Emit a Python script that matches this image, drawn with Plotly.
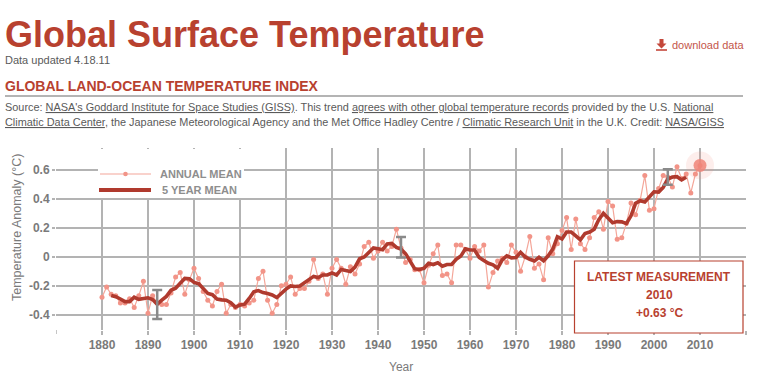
import plotly.graph_objects as go

# ---------------- data ----------------
years = list(range(1880, 2011))
annual = [
    -0.28, -0.21, -0.26, -0.27, -0.32, -0.32, -0.29, -0.35, -0.27, -0.17,   # 1880s
    -0.39, -0.27, -0.32, -0.33, -0.33, -0.25, -0.14, -0.11, -0.26, -0.16,   # 1890s
    -0.08, -0.15, -0.24, -0.30, -0.34, -0.24, -0.19, -0.39, -0.33, -0.35,   # 1900s
    -0.33, -0.34, -0.32, -0.30, -0.15, -0.10, -0.30, -0.39, -0.33, -0.20,   # 1910s
    -0.19, -0.14, -0.26, -0.22, -0.22, -0.17, -0.02, -0.15, -0.12, -0.26,   # 1920s
    -0.08, -0.02, -0.08, -0.19, -0.07, -0.12, -0.05, 0.07, 0.10, -0.01,     # 1930s
    0.04, 0.10, 0.04, 0.07, 0.19, 0.06, -0.04, -0.02, -0.09, -0.09,         # 1940s
    -0.18, -0.06, 0.02, 0.08, -0.13, -0.12, -0.18, 0.08, 0.08, 0.05,        # 1950s
    -0.01, 0.07, 0.04, 0.08, -0.21, -0.11, -0.03, -0.01, -0.04, 0.08,       # 1960s
    0.03, -0.10, 0.00, 0.14, -0.08, -0.05, -0.16, 0.13, 0.02, 0.09,         # 1970s
    0.18, 0.27, 0.05, 0.26, 0.09, 0.05, 0.13, 0.27, 0.31, 0.19,             # 1980s
    0.38, 0.35, 0.12, 0.13, 0.23, 0.37, 0.29, 0.39, 0.56, 0.32,             # 1990s
    0.33, 0.47, 0.56, 0.55, 0.48, 0.62, 0.54, 0.57, 0.44, 0.57,             # 2000s
    0.63,                                                                   # 2010
]

years5 = list(range(1882, 2008))
five_year = [
    -0.268, -0.276, -0.292, -0.310, -0.310, -0.280, -0.294, -0.290,          # 1882-1889
    -0.284, -0.296, -0.328, -0.300, -0.274, -0.232, -0.218, -0.184, -0.150, -0.152,  # 1890s
    -0.178, -0.186, -0.222, -0.254, -0.262, -0.292, -0.298, -0.300, -0.318, -0.348,  # 1900s
    -0.334, -0.328, -0.288, -0.242, -0.234, -0.248, -0.254, -0.264, -0.282, -0.250,  # 1910s
    -0.224, -0.202, -0.206, -0.202, -0.178, -0.156, -0.136, -0.144, -0.126, -0.126,  # 1920s
    -0.112, -0.126, -0.088, -0.096, -0.102, -0.072, -0.014, -0.002, 0.030, 0.060,    # 1930s
    0.054, 0.048, 0.088, 0.092, 0.064, 0.052, 0.020, -0.036, -0.084, -0.088,         # 1940s
    -0.080, -0.046, -0.054, -0.042, -0.066, -0.054, -0.054, -0.018, 0.004, 0.054,    # 1950s
    0.046, 0.046, -0.006, -0.026, -0.046, -0.056, -0.080, -0.022, 0.006, -0.008,     # 1960s
    -0.006, 0.030, -0.002, -0.018, -0.030, -0.004, -0.028, 0.006, 0.052, 0.138,      # 1970s
    0.122, 0.170, 0.170, 0.144, 0.116, 0.160, 0.170, 0.190, 0.256, 0.300,            # 1980s
    0.270, 0.234, 0.242, 0.240, 0.228, 0.282, 0.368, 0.386, 0.378, 0.414,            # 1990s
    0.448, 0.446, 0.478, 0.536, 0.550, 0.552, 0.530, 0.548,                          # 2000-2007
]

err_years = [1892, 1945, 2003]
err_center = [-0.33, 0.065, 0.55]
err_half = [0.10, 0.07, 0.053]

x_tickvals = [1880, 1890, 1900, 1910, 1920, 1930, 1940, 1950, 1960, 1970, 1980, 1990, 2000, 2010, 2020]
x_ticktext = ["1880", "1890", "1900", "1910", "1920", "1930", "1940", "1950", "1960", "1970", "1980", "1990", "2000", "2010", ""]
y_tickvals = [0.6, 0.4, 0.2, 0, -0.2, -0.4]
y_ticktext = ["0.6", "0.4", "0.2", "0", "-0.2", "-0.4"]

# ---------------- style ----------------
FONT = "Liberation Sans, Arial, Helvetica, sans-serif"
RED = "#b8412f"
DARK_LINE = "#b03a2e"
ANNUAL_LINE = "#f4a699"
ANNUAL_MARK = "#f29488"
GRID = "#b3b3b3"
GRAY = "#7a7a7a"
TEXT_GRAY = "#5a5a5a"

W, H = 758, 385
L, R, T, B = 56, 746, 148, 330


def px(x):
    return (x - L) / (R - L)


def py(y):
    return (B - y) / (B - T)


fig = go.Figure()

fig.add_trace(go.Scatter(
    x=years, y=annual, mode="lines+markers",
    line=dict(color=ANNUAL_LINE, width=1.2),
    marker=dict(size=5, color=ANNUAL_MARK),
    hoverinfo="skip", showlegend=False,
))
fig.add_trace(go.Scatter(
    x=years5, y=five_year, mode="lines",
    line=dict(color=DARK_LINE, width=3.6),
    hoverinfo="skip", showlegend=False,
))
# latest measurement highlight
fig.add_trace(go.Scatter(
    x=[years[-1]], y=[annual[-1]], mode="markers",
    marker=dict(size=28, color="rgba(242,140,128,0.15)"),
    hoverinfo="skip", showlegend=False,
))
fig.add_trace(go.Scatter(
    x=[years[-1]], y=[annual[-1]], mode="markers",
    marker=dict(size=13, color="rgba(240,132,120,0.85)"),
    hoverinfo="skip", showlegend=False,
))
# uncertainty bars
fig.add_trace(go.Scatter(
    x=err_years, y=err_center, mode="markers",
    marker=dict(size=2, color="rgba(0,0,0,0)"),
    error_y=dict(type="data", array=err_half, color="#8a8a8a", thickness=2.5, width=5),
    hoverinfo="skip", showlegend=False,
))

shapes = []
annotations = []

# header
annotations.append(dict(x=px(3), y=py(34), xref="paper", yref="paper", xanchor="left", yanchor="middle",
                        text="<b>Global Surface Temperature</b>", showarrow=False,
                        font=dict(family=FONT, size=36, color=RED)))
annotations.append(dict(x=px(3), y=py(60), xref="paper", yref="paper", xanchor="left", yanchor="middle",
                        text="Data updated 4.18.11", showarrow=False,
                        font=dict(family=FONT, size=11, color=TEXT_GRAY)))
annotations.append(dict(x=px(3), y=py(86), xref="paper", yref="paper", xanchor="left", yanchor="middle",
                        text="<b>GLOBAL LAND-OCEAN TEMPERATURE INDEX</b>", showarrow=False,
                        font=dict(family=FONT, size=14, color=RED)))
shapes.append(dict(type="line", xref="paper", yref="paper", x0=px(5), x1=px(743), y0=py(96), y1=py(96),
                   line=dict(color="#6a6a6a", width=1.2)))
annotations.append(dict(x=px(3), y=py(107), xref="paper", yref="paper", xanchor="left", yanchor="middle",
                        text="Source: <u>NASA's Goddard Institute for Space Studies (GISS)</u>. This trend "
                             "<u>agrees with other global temperature records</u> provided by the U.S. <u>National</u>",
                        showarrow=False, font=dict(family=FONT, size=10.9, color=TEXT_GRAY)))
annotations.append(dict(x=px(3), y=py(122), xref="paper", yref="paper", xanchor="left", yanchor="middle",
                        text="<u>Climatic Data Center</u>, the Japanese Meteorological Agency and the Met Office "
                             "Hadley Centre / <u>Climatic Research Unit</u> in the U.K. Credit: <u>NASA/GISS</u>",
                        showarrow=False, font=dict(family=FONT, size=10.9, color=TEXT_GRAY)))
# download link
annotations.append(dict(x=px(670), y=py(45), xref="paper", yref="paper", xanchor="left", yanchor="middle",
                        text="download data", showarrow=False,
                        font=dict(family=FONT, size=11, color="#c4564a")))
arrow_path = "M {a},{b} L {c},{b} L {c},{d} L {e},{d} L {f},{g} L {h},{d} L {i},{d} Z".format(
    a=px(659.5), b=py(39), c=px(663.5), d=py(43.5), e=px(666.5), f=px(661.5), g=py(48.5), h=px(656.5), i=px(659.5))
shapes.append(dict(type="path", xref="paper", yref="paper", path=arrow_path,
                   fillcolor="#c4473a", line=dict(width=0)))
shapes.append(dict(type="rect", xref="paper", yref="paper", x0=px(656), x1=px(667), y0=py(49.2), y1=py(50.8),
                   fillcolor="#c4473a", line=dict(width=0)))

# left-edge tick
shapes.append(dict(type="line", xref="x", yref="paper", x0=1870, x1=1870, ysizemode="pixel", yanchor=0,
                   y0=0, y1=-4, line=dict(color=GRID, width=1.5)))

# legend (manual)
shapes.append(dict(type="rect", xref="paper", yref="paper", x0=px(98), x1=px(244), y0=py(198), y1=py(149),
                   fillcolor="white", line=dict(width=0), layer="above"))
shapes.append(dict(type="line", xref="paper", yref="paper", x0=px(100), x1=px(151), y0=py(174), y1=py(174),
                   line=dict(color=ANNUAL_LINE, width=1.2), layer="above"))
shapes.append(dict(type="circle", xref="paper", yref="paper", x0=px(123.2), x1=px(127.8), y0=py(176.3), y1=py(171.7),
                   fillcolor=ANNUAL_MARK, line=dict(width=0), layer="above"))
shapes.append(dict(type="line", xref="paper", yref="paper", x0=px(99), x1=px(151), y0=py(190), y1=py(190),
                   line=dict(color=DARK_LINE, width=4), layer="above"))
annotations.append(dict(x=px(158), y=py(174), xref="paper", yref="paper", xanchor="left", yanchor="middle",
                        text="<b>ANNUAL MEAN</b>", showarrow=False,
                        font=dict(family=FONT, size=11, color="#8e8e8e")))
annotations.append(dict(x=px(160), y=py(190), xref="paper", yref="paper", xanchor="left", yanchor="middle",
                        text="<b>5 YEAR MEAN</b>", showarrow=False,
                        font=dict(family=FONT, size=11, color="#8e8e8e")))

# latest measurement box
shapes.append(dict(type="rect", xref="paper", yref="paper", x0=px(574.5), x1=px(743), y0=py(333), y1=py(261),
                   fillcolor="white", line=dict(color=RED, width=1.2), layer="above"))
box_lines = ["LATEST MEASUREMENT", str(years[-1]), "%+.2f °C" % annual[-1]]
for i, t in enumerate(box_lines):
    annotations.append(dict(x=px(659), y=py(277 + 18 * i), xref="paper", yref="paper",
                            xanchor="center", yanchor="middle", text="<b>%s</b>" % t, showarrow=False,
                            font=dict(family=FONT, size=12, color=RED)))

# axis titles
annotations.append(dict(x=px(17), y=py(228), xref="paper", yref="paper", xanchor="center", yanchor="middle",
                        text="Temperature Anomaly (°C)", textangle=-90, showarrow=False,
                        font=dict(family=FONT, size=12.5, color=GRAY)))
annotations.append(dict(x=px(401), y=py(367), xref="paper", yref="paper", xanchor="center", yanchor="middle",
                        text="Year", showarrow=False,
                        font=dict(family=FONT, size=12, color=GRAY)))

fig.update_layout(
    width=W, height=H,
    margin=dict(l=L, r=W - R, t=T, b=H - B, pad=0),
    paper_bgcolor="white", plot_bgcolor="white",
    font=dict(family=FONT),
    shapes=shapes, annotations=annotations,
    showlegend=False,
)
fig.update_xaxes(
    range=[1870, 2020], tickmode="array", tickvals=x_tickvals, ticktext=x_ticktext,
    showgrid=True, gridcolor=GRID, gridwidth=1.5, zeroline=False, showline=False,
    ticks="outside", ticklen=4, tickcolor=GRID, tickwidth=1.5,
    tickfont=dict(family=FONT, size=12, color=GRAY, weight="bold"),
)
fig.update_yaxes(
    range=[-0.506, 0.75], tickmode="array", tickvals=y_tickvals, ticktext=y_ticktext,
    showgrid=True, gridcolor=GRID, gridwidth=1.5, zeroline=False, showline=False,
    ticks="outside", ticklen=3, tickcolor=GRID, tickwidth=1.5,
    tickfont=dict(family=FONT, size=12, color=GRAY, weight="bold"),
)

fig.write_html("out.html", config={"displayModeBar": False},
               post_script="document.body.style.margin='0px';document.body.style.padding='0px';")
